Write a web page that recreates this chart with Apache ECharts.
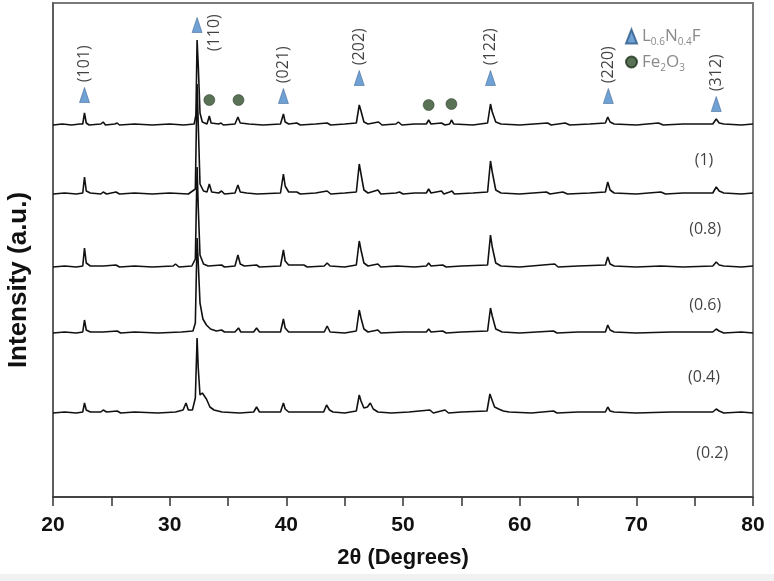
<!DOCTYPE html>
<html>
<head>
<meta charset="utf-8">
<script src="https://cdn.jsdelivr.net/npm/echarts/dist/echarts.min.js"></script>
<style>
html,body{margin:0;padding:0;background:#fff;}
#c{width:774px;height:581px;}
</style>
</head>
<body>
<div id="c"></div>
<script>
// ---------- data ----------
const xTicks = [20, 30, 40, 50, 60, 70, 80];
const sampleNames = ['(1)', '(0.8)', '(0.6)', '(0.4)', '(0.2)'];
const offsets = [372, 303, 230, 164, 84];

// relative intensities (a.u.) vs 2theta
const p1 = [[20,0],[20.8,1],[21.6,0],[22.3,1],[22.55,1],[22.7,12],[22.85,2],[23.1,0],[24.1,1],[24.3,3],[24.5,0],[25.3,1],[25.5,2],[25.7,0],[27,1],[28.5,0],[30,1],[31.2,0],[32.1,1],[32.25,10],[32.35,85],[32.45,60],[32.6,12],[32.8,3],[33.2,1],[33.4,9],[33.55,2],[34.2,1],[34.4,2],[34.6,0],[35.6,1],[35.85,8],[36.05,2],[36.8,1],[38,0],[39.5,1],[39.75,11],[39.9,3],[40.2,1],[40.9,2],[41.2,0],[42.5,1],[43.5,2],[43.8,0],[45,1],[46.0,2],[46.25,20],[46.4,14],[46.65,3],[47.0,1],[47.9,3],[48.2,0],[49.4,1],[49.6,3],[49.9,0],[51,1],[52.0,1],[52.2,5],[52.4,1],[53.3,2],[53.6,0],[54.0,1],[54.15,5],[54.35,1],[56,0],[57.25,2],[57.5,21],[57.65,13],[57.95,3],[58.4,1],[60,0],[62.4,2],[62.7,0],[63.9,2],[64.3,0],[66,1],[67.35,2],[67.55,8],[67.75,3],[68.1,1],[70,0],[71.9,2],[72.3,0],[74,1],[76.55,1],[76.85,6],[77.1,2],[77.5,1],[79,0],[80,1]];
const p2 = [[20,0],[21,1],[22,0],[22.55,1],[22.7,17],[22.85,3],[23.2,1],[24.1,0],[24.3,2],[24.6,0],[25.4,2],[25.7,0],[27,1],[28.5,0],[30,1],[31.6,0],[32.2,5],[32.35,110],[32.45,70],[32.6,10],[32.9,3],[33.2,2],[33.4,10],[33.6,2],[34.2,1],[34.45,3],[34.7,0],[35.6,1],[35.85,9],[36.05,2],[36.6,1],[37.5,0],[39.5,1],[39.75,20],[39.9,8],[40.2,2],[40.9,2],[41.2,0],[42.5,1],[43.5,3],[43.8,0],[45,1],[46.0,2],[46.25,30],[46.4,20],[46.65,4],[47.0,1],[47.85,4],[48.1,0],[49.4,1],[49.7,2],[50,0],[51,1],[52.0,1],[52.2,5],[52.4,1],[53.3,3],[53.5,0],[54.0,2],[54.2,3],[54.4,0],[56,1],[57.25,2],[57.5,33],[57.65,22],[57.95,4],[58.4,1],[60,0],[62.3,2],[62.6,0],[63.7,2],[64.1,0],[66,1],[67.35,2],[67.55,12],[67.75,4],[68.1,1],[70,0],[72.1,2],[72.5,0],[74,1],[76.55,1],[76.85,7],[77.1,3],[77.5,1],[79,0],[80,1]];
const p3 = [[20,0],[21,1],[22,0],[22.55,1],[22.7,19],[22.85,4],[23.2,1],[24.3,1],[25.4,2],[25.7,0],[27,1],[28.5,0],[30.3,1],[30.5,3],[30.8,0],[31.9,1],[32.2,8],[32.35,100],[32.45,60],[32.6,12],[32.9,3],[33.3,1],[34.45,2],[34.7,0],[35.6,1],[35.85,12],[36.05,3],[36.4,1],[37.45,2],[37.7,0],[39.5,1],[39.75,17],[39.9,6],[40.2,2],[41.5,2],[41.8,0],[43.25,1],[43.5,4],[43.75,1],[45,0],[46.0,2],[46.25,26],[46.4,17],[46.65,4],[47.0,1],[47.85,3],[48.1,0],[49.5,1],[51,0],[52.0,1],[52.2,4],[52.4,1],[53.4,2],[53.7,0],[55,1],[57.25,2],[57.5,32],[57.65,20],[57.95,4],[58.4,1],[60,0],[63.0,3],[63.3,0],[65,1],[67.35,2],[67.55,10],[67.75,3],[68.1,1],[70,0],[72.1,1],[74,0],[76.55,1],[76.85,5],[77.1,2],[77.5,1],[79,0],[80,1]];
const p4 = [[20,0],[21,1],[22,0],[22.55,1],[22.7,13],[22.85,3],[23.2,1],[24.3,1],[25.5,2],[25.8,0],[27,1],[29,0],[31,1],[32.0,2],[32.2,10],[32.35,95],[32.45,70],[32.6,30],[32.85,14],[33.15,8],[33.5,4],[34,2],[34.45,3],[34.7,1],[35.6,1],[35.9,5],[36.1,1],[37.2,1],[37.45,5],[37.7,1],[39.5,1],[39.75,14],[39.9,5],[40.2,1],[41.5,1],[43.25,1],[43.5,7],[43.75,1],[45,0],[46.0,2],[46.25,23],[46.4,15],[46.65,4],[47.0,1],[47.85,3],[48.1,0],[50,1],[52.0,1],[52.2,4],[52.4,1],[53.4,2],[53.7,0],[55,1],[57.25,2],[57.5,25],[57.65,17],[57.95,4],[58.5,1],[60,0],[62.9,2],[63.2,0],[65,1],[67.35,1],[67.55,8],[67.75,3],[68.1,1],[70,0],[73,1],[76.55,1],[76.85,4],[77.1,2],[77.5,0],[79,1],[80,0]];
const p5 = [[20,0],[21,1],[22,0],[22.55,1],[22.7,10],[22.85,3],[23.2,1],[24.1,1],[24.3,3],[24.6,1],[25.5,2],[25.8,0],[27,1],[29,0],[30.5,1],[31.15,3],[31.4,10],[31.6,3],[31.95,3],[32.2,15],[32.35,75],[32.45,45],[32.6,18],[32.8,20],[32.95,22],[33.15,14],[33.45,6],[33.8,3],[34.5,1],[36,0],[37.2,1],[37.45,6],[37.7,1],[39.5,1],[39.75,10],[39.9,4],[40.2,1],[41.5,1],[43.2,1],[43.45,8],[43.7,3],[44.0,1],[45,0],[46.0,2],[46.25,18],[46.4,12],[46.65,5],[46.95,6],[47.2,10],[47.45,4],[47.85,1],[49,0],[50.5,1],[52.3,3],[52.6,0],[53.6,3],[53.9,0],[55,1],[57.2,2],[57.45,19],[57.6,14],[57.85,6],[58.2,4],[58.6,2],[59.1,1],[61,0],[62.9,2],[63.2,0],[65,1],[67.35,1],[67.55,6],[67.75,2],[68.1,1],[70,0],[73,1],[76.55,1],[76.85,4],[77.1,2],[77.5,0],[79,1],[80,0]];
const patterns = [p1, p2, p3, p4, p5];

// phase markers
const hklLabels = ['(101)', '(110)', '(021)', '(202)', '(122)', '(220)', '(312)'];
const hklPos = [[22.7,402],[32.35,472],[39.75,401],[46.25,419],[57.5,419],[67.6,401],[76.85,393]];
const fe2o3Pos = [[33.4,397],[35.9,397],[52.2,392],[54.15,393]];
const sampleLabelPos = [[75.8,337],[75.9,268],[75.9,192],[75.8,120],[76.5,44]];

// ---------- chart ----------
const chart = echarts.init(document.getElementById('c'), null, {renderer: 'canvas'});
const font = 'Liberation Sans, Arial, sans-serif';
const lblFont = 'Open Sans, Noto Sans, sans-serif';

const series = patterns.map((p, i) => ({
  name: 'S' + i,
  type: 'line',
  data: p.map(d => [d[0], d[1] + offsets[i]]),
  showSymbol: false,
  symbol: 'none',
  smooth: false,
  lineStyle: {color: '#111', width: 1.6},
  z: 2,
  silent: true
}));

series.push({
  name: 'L0.6N0.4F',
  type: 'scatter',
  symbol: 'triangle',
  symbolSize: [10, 15],
  itemStyle: {color: '#4c89cb', borderColor: '#2b5787', borderWidth: 0.6},
  data: hklPos.map((d, i) => {
    const item = {value: d, name: hklLabels[i]};
    if (i === 1) {
      item.label = {position: [23, 34]};
    }
    return item;
  }),
  label: {
    show: true,
    position: 'top',
    distance: 5,
    rotate: 90,
    align: 'left',
    verticalAlign: 'middle',
    formatter: p => p.name,
    fontFamily: lblFont,
    fontSize: 16,
    color: '#111'
  },
  z: 5
});

series.push({
  name: 'Fe2O3',
  type: 'scatter',
  symbol: 'circle',
  symbolSize: 11,
  itemStyle: {color: '#2f4f2c', borderColor: '#1e331c', borderWidth: 0.6},
  data: fe2o3Pos,
  z: 5
});

series.push({
  name: 'samples',
  type: 'scatter',
  symbolSize: 1,
  itemStyle: {color: 'rgba(0,0,0,0)'},
  data: sampleLabelPos.map((d, i) => ({value: d, name: sampleNames[i]})),
  label: {
    show: true,
    position: 'inside',
    formatter: p => p.name,
    fontFamily: lblFont,
    fontSize: 16,
    color: '#111'
  },
  z: 5
});

chart.setOption({
  animation: false,
  backgroundColor: '#fff',
  grid: {left: 53, right: 21, top: 3, bottom: 84, show: true, borderColor: '#7a7a7a', borderWidth: 2, backgroundColor: 'transparent'},
  legend: {
    data: ['L0.6N0.4F', 'Fe2O3'],
    orient: 'vertical',
    left: 620,
    top: 23,
    itemWidth: 11,
    itemHeight: 14,
    itemGap: 6,
    selectedMode: false,
    textStyle: {
      color: '#8a8a8a',
      fontFamily: lblFont,
      fontSize: 17,
      rich: {
        m: {fontFamily: lblFont, fontSize: 17, color: '#8a8a8a'},
        s: {fontFamily: lblFont, fontSize: 10, color: '#8a8a8a', padding: [12, 0, 0, 0]}
      }
    },
    formatter: n => n === 'Fe2O3' ? '{m|Fe}{s|2}{m|O}{s|3}' : '{m|L}{s|0.6}{m|N}{s|0.4}{m|F}'
  },
  xAxis: {
    type: 'value',
    min: 20,
    max: 80,
    interval: 5,
    name: '2θ (Degrees)',
    nameLocation: 'middle',
    nameGap: 50,
    nameTextStyle: {fontFamily: font, fontWeight: 'bold', fontSize: 22, color: '#111'},
    axisLine: {show: true, lineStyle: {color: '#333', width: 1.5}},
    axisTick: {show: true, inside: false, length: 9, lineStyle: {color: '#333', width: 1.5}},
    axisLabel: {
      margin: 18,
      fontFamily: font,
      fontWeight: 'bold',
      fontSize: 21,
      color: '#111',
      formatter: v => xTicks.indexOf(v) >= 0 ? String(v) : ''
    },
    splitLine: {show: false}
  },
  yAxis: {
    type: 'value',
    min: 0,
    max: 494,
    axisLine: {show: true, lineStyle: {color: '#555', width: 1.5}},
    axisTick: {show: false},
    axisLabel: {show: false},
    splitLine: {show: false}
  },
  graphic: [{
    type: 'text',
    x: 19,
    y: 280,
    rotation: Math.PI / 2,
    style: {
      text: 'Intensity (a.u.)',
      font: 'bold 26px Liberation Sans, Arial, sans-serif',
      fill: '#111',
      align: 'center',
      verticalAlign: 'middle'
    },
    silent: true
  }, {
    type: 'rect',
    shape: {x: 0, y: 574, width: 774, height: 7},
    style: {fill: '#f1f1f1'},
    silent: true
  }],
  series: series
});
</script>
</body>
</html>
